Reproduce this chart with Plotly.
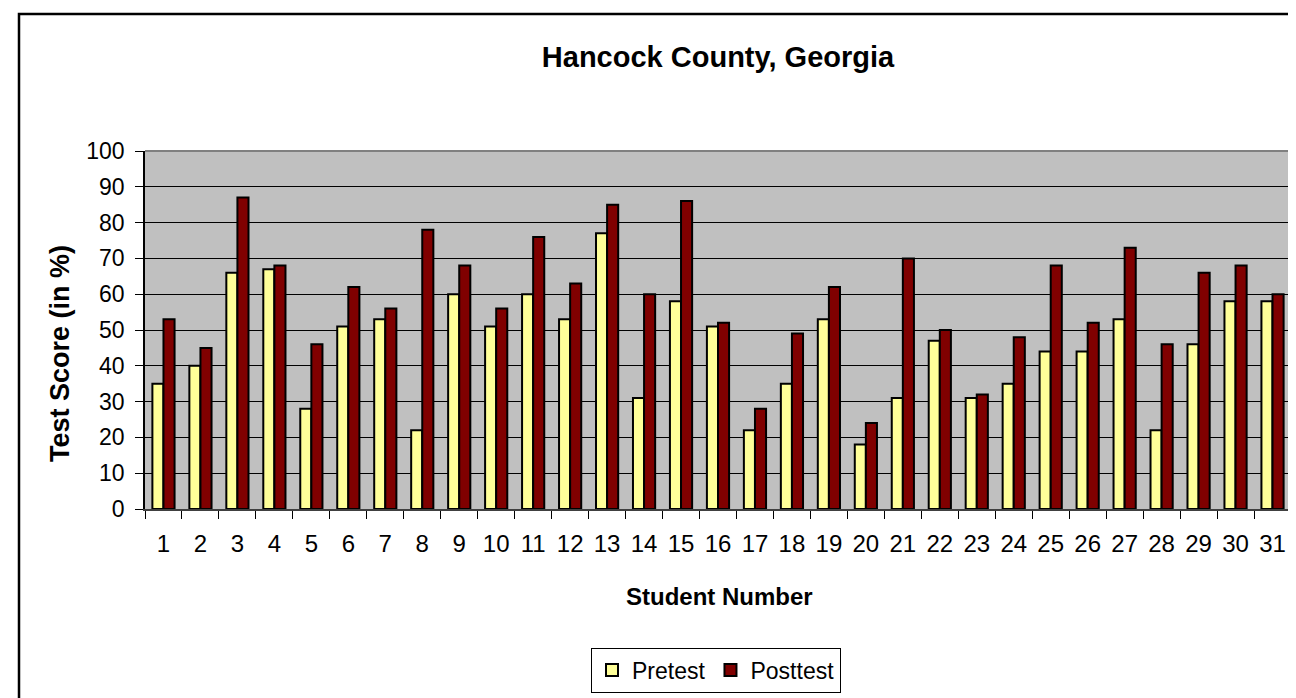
import plotly.graph_objects as go

students = [str(i) for i in range(1, 32)]
pretest = [35, 40, 66, 67, 28, 51, 53, 22, 60, 51, 60, 53, 77, 31, 58, 51, 22, 35, 53, 18,
           31, 47, 31, 35, 44, 44, 53, 22, 46, 58, 58]
posttest = [53, 45, 87, 68, 46, 62, 56, 78, 68, 56, 76, 63, 85, 60, 86, 52, 28, 49, 62, 24,
            70, 50, 32, 48, 68, 52, 73, 46, 66, 68, 60]
y_ticks = list(range(0, 101, 10))

FONT = "Liberation Sans, Arial, sans-serif"

fig = go.Figure()
fig.add_trace(go.Bar(x=students, y=pretest, name="Pretest",
                     marker=dict(color="#FFFF99", line=dict(color="black", width=2))))
fig.add_trace(go.Bar(x=students, y=posttest, name="Posttest",
                     marker=dict(color="#800000", line=dict(color="black", width=2))))

fig.update_layout(
    width=1296, height=698,
    margin=dict(l=137, r=13, t=143, b=197),
    paper_bgcolor="white", plot_bgcolor="#C0C0C0",
    barmode="group", bargap=0.4, bargroupgap=0,
    font=dict(family=FONT, color="black", size=22),
    title=dict(text="<b>Hancock County, Georgia</b>", x=0.5, xanchor="center",
               y=1 - 49 / 698, yanchor="middle", xref="paper",
               font=dict(size=29, family=FONT)),
    showlegend=True,
    legend=dict(orientation="h", x=708 / 1296, xref="container", xanchor="center",
                y=1 - 662 / 698, yref="container", yanchor="middle",
                bordercolor="black", borderwidth=1, bgcolor="white",
                font=dict(size=23, family=FONT), itemwidth=30,
                traceorder="normal"),
)
fig.update_yaxes(range=[0, 100], tickvals=y_ticks, ticks="outside", ticklen=8,
                 tickcolor="black", showline=True, linecolor="black", linewidth=1.5,
                 showgrid=True, gridcolor="black", gridwidth=1, zeroline=False,
                 tickfont=dict(size=23), ticklabelstandoff=6, fixedrange=True)
fig.update_xaxes(type="category", tickson="boundaries", ticks="outside", ticklen=8,
                 tickcolor="black", showline=True, linecolor="#404040", linewidth=1.5,
                 showgrid=False, tickfont=dict(size=24), ticklabelstandoff=12,
                 fixedrange=True)

# plot frame top/right in gray
fig.add_shape(type="line", xref="paper", yref="paper", x0=0, x1=1, y0=1, y1=1,
              line=dict(color="#808080", width=2))
fig.add_shape(type="line", xref="paper", yref="paper", x0=1, x1=1, y0=0, y1=1,
              line=dict(color="#808080", width=2))

# axis titles
fig.add_annotation(text="<b>Test Score (in %)</b>", xref="paper", yref="paper",
                   x=(52 - 137) / 1146, y=(501 - 346) / 358, textangle=-90,
                   showarrow=False, font=dict(size=27, family=FONT),
                   xanchor="center", yanchor="middle")
fig.add_annotation(text="<b>Student Number</b>", xref="paper", yref="paper",
                   x=(711 - 137) / 1146, y=(501 - 588) / 358,
                   showarrow=False, font=dict(size=24, family=FONT),
                   xanchor="center", yanchor="middle")

# outer chart border
fig.add_shape(type="rect", xref="paper", yref="paper",
              x0=(11 - 137) / 1146, x1=(1300 - 137) / 1146,
              y0=(501 - 702) / 358, y1=(501 - 6) / 358,
              line=dict(color="black", width=2.5), layer="below")

fig.write_html("out.html")
